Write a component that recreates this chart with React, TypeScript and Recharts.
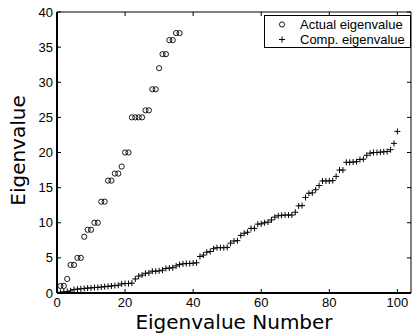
import { ScatterChart, Scatter, XAxis, YAxis, Legend } from "recharts"

const actualName = "Actual eigenvalue"
const compName = "Comp. eigenvalue"

// exact eigenvalues, numbered 1..36
const actualValues = [
  1, 1, 2, 4, 4, 5, 5, 8, 9, 9, 10, 10, 13, 13, 16, 16, 17, 17, 18, 20, 20,
  25, 25, 25, 25, 26, 26, 29, 29, 32, 34, 34, 36, 36, 37, 37,
]

// computed eigenvalues, numbered 1..100
const compValues = [
  0.1, 0.15, 0.2, 0.3, 0.5, 0.55, 0.6, 0.65, 0.7, 0.72,
  0.78, 0.8, 0.85, 0.9, 0.95, 1.0, 1.05, 1.1, 1.3, 1.35,
  1.35, 1.4, 2.0, 2.4, 2.55, 2.8, 2.85, 3.1, 3.1, 3.15,
  3.25, 3.5, 3.55, 3.6, 3.85, 4.05, 4.15, 4.2, 4.2, 4.25,
  4.3, 5.2, 5.4, 5.8, 5.9, 6.3, 6.45, 6.45, 6.45, 6.5,
  7.1, 7.4, 7.45, 8.2, 8.5, 8.65, 9.2, 9.2, 9.8, 9.85,
  10.0, 10.1, 10.4, 10.8, 11.0, 11.05, 11.1, 11.1, 11.1, 11.5,
  12.4, 12.45, 13.6, 14.2, 14.25, 14.7, 15.3, 15.95, 15.95, 15.95,
  16.0, 16.6, 17.5, 17.5, 18.6, 18.6, 18.65, 18.7, 19.0, 19.05,
  19.6, 19.9, 20.0, 20.0, 20.05, 20.1, 20.15, 20.4, 21.3, 23.0,
]

const xTicks = [0, 20, 40, 60, 80, 100]
const yTicks = [0, 5, 10, 15, 20, 25, 30, 35, 40]

const actualData = actualValues.map((v, i) => ({ n: i + 1, value: v }))
const compData = compValues.map((v, i) => ({ n: i + 1, value: v }))

const tickFont = { fontFamily: "Liberation Sans, Arial, sans-serif", fontSize: 13, fill: "#000" }
const titleFont = "DejaVu Sans, sans-serif"

const Circle = ({ cx, cy }: any) => (
  <circle cx={cx} cy={cy} r={2.6} fill="none" stroke="#000" strokeWidth={0.9} />
)

const Plus = ({ cx, cy }: any) => (
  <path d={`M${cx - 3},${cy}H${cx + 3}M${cx},${cy - 3}V${cy + 3}`} stroke="#000" strokeWidth={1} fill="none" />
)

// top/right box axes: tick marks only, no labels
const NoLabel = () => <g />

const YTitle = ({ viewBox }: any) => {
  const x = viewBox.x + 25
  const y = viewBox.y + viewBox.height / 2 - 2
  return (
    <text x={x} y={y} transform={`rotate(-90, ${x}, ${y})`} textAnchor="middle"
      fontFamily={titleFont} fontSize={20} fill="#000">
      Eigenvalue
    </text>
  )
}

const renderLegend = (props: any) => (
  <div style={{
    border: "1px solid #000", background: "#fff", paddingTop: 1,
    fontFamily: tickFont.fontFamily, fontSize: 13, color: "#000", lineHeight: "15px",
  }}>
    {(props.payload || []).map((entry: any) => (
      <div key={entry.value} style={{ display: "flex", alignItems: "center", height: 15 }}>
        <svg width={35} height={15} style={{ display: "block" }}>
          {entry.value === actualName
            ? <Circle cx={17} cy={7.5} />
            : <Plus cx={17} cy={7.5} />}
        </svg>
        <span>{entry.value}</span>
      </div>
    ))}
  </div>
)

export default function App() {
  return (
    <div style={{ position: "absolute", left: 0, top: 0, background: "#fff" }}>
      <ScatterChart width={412} height={334} margin={{ top: 11, right: 0, left: 0, bottom: 0 }}>
        <XAxis
          xAxisId="bottom" type="number" dataKey="n" domain={[0, 104]} ticks={xTicks} allowDataOverflow
          height={41} tickSize={-4} tickMargin={9} tick={tickFont}
          axisLine={{ stroke: "#000", strokeWidth: 2 }} tickLine={{ stroke: "#000" }}
          label={{ value: "Eigenvalue Number", position: "insideBottom", offset: 5,
            fontFamily: titleFont, fontSize: 20, fill: "#000" }}
        />
        <XAxis
          xAxisId="top" orientation="top" type="number" dataKey="n" domain={[0, 104]} ticks={xTicks}
          allowDataOverflow height={1} tickSize={-4} tick={NoLabel}
          axisLine={{ stroke: "#000", strokeWidth: 1 }} tickLine={{ stroke: "#000" }}
        />
        <YAxis
          yAxisId="left" type="number" dataKey="value" domain={[0, 40]} ticks={yTicks} allowDataOverflow
          width={57} tickSize={-4} tickMargin={8} tick={tickFont}
          axisLine={{ stroke: "#000", strokeWidth: 2 }} tickLine={{ stroke: "#000" }}
          label={YTitle}
        />
        <YAxis
          yAxisId="right" orientation="right" type="number" dataKey="value" domain={[0, 40]} ticks={yTicks}
          allowDataOverflow width={1} tickSize={-4} tick={NoLabel}
          axisLine={{ stroke: "#000", strokeWidth: 1 }} tickLine={{ stroke: "#000" }}
        />
        <Legend
          layout="vertical" align="center" verticalAlign="middle"
          wrapperStyle={{ top: 15, left: 264, width: 147 }}
          content={renderLegend}
        />
        <Scatter name={actualName} data={actualData} xAxisId="bottom" yAxisId="left"
          shape={Circle} isAnimationActive={false} />
        <Scatter name={compName} data={compData} xAxisId="top" yAxisId="right"
          shape={Plus} isAnimationActive={false} />
      </ScatterChart>
    </div>
  )
}
